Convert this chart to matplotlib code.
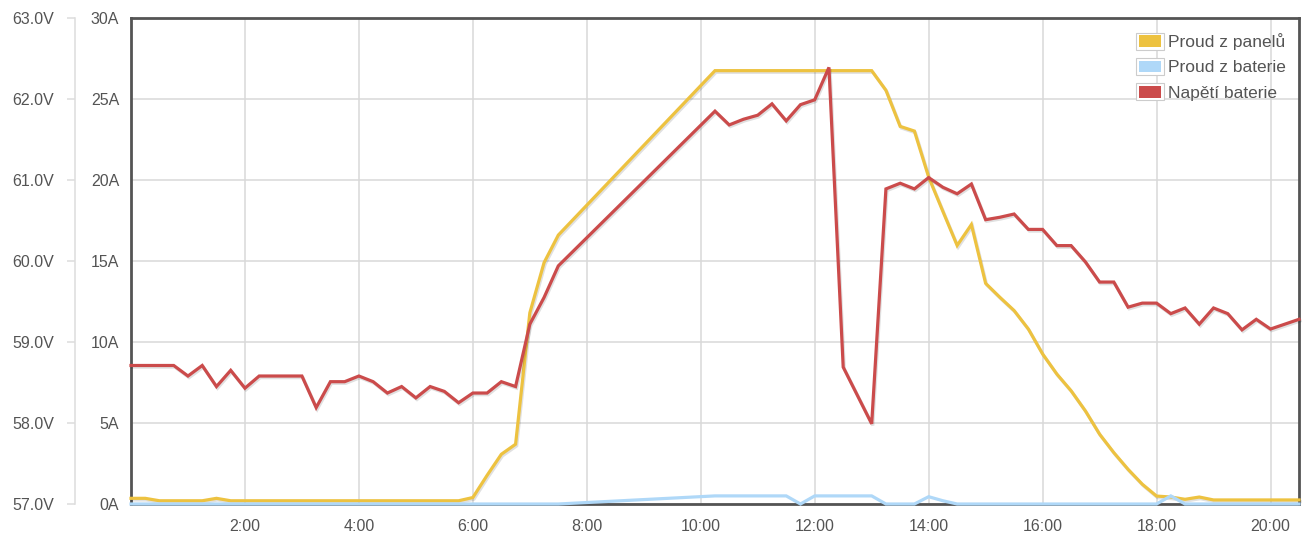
"""Solar charger day log: panel current, battery current and battery voltage."""

import matplotlib

matplotlib.use("Agg")
import matplotlib.pyplot as plt  # noqa: E402
import matplotlib.patheffects as pe  # noqa: E402
from matplotlib.patches import Patch, Rectangle  # noqa: E402

plt.rcParams["font.family"] = ["Liberation Sans", "DejaVu Sans"]

# Samples every 15 min; the logger has a gap between 7:30 and 10:15.
TIMES = [
    "0:00", "0:15", "0:30", "0:45", "1:00", "1:15", "1:30", "1:45",
    "2:00", "2:15", "2:30", "2:45", "3:00", "3:15", "3:30", "3:45",
    "4:00", "4:15", "4:30", "4:45", "5:00", "5:15", "5:30", "5:45",
    "6:00", "6:15", "6:30", "6:45", "7:00", "7:15", "7:30",
    "10:15", "10:30", "10:45", "11:00", "11:15", "11:30", "11:45",
    "12:00", "12:15", "12:30", "12:45", "13:00", "13:15", "13:30", "13:45",
    "14:00", "14:15", "14:30", "14:45", "15:00", "15:15", "15:30", "15:45",
    "16:00", "16:15", "16:30", "16:45", "17:00", "17:15", "17:30", "17:45",
    "18:00", "18:15", "18:30", "18:45", "19:00", "19:15", "19:30", "19:45",
    "20:00", "20:15", "20:30",
]

PANEL_A = [
    0.35, 0.35, 0.2, 0.2, 0.2, 0.2, 0.35, 0.2,
    0.2, 0.2, 0.2, 0.2, 0.2, 0.2, 0.2, 0.2,
    0.2, 0.2, 0.2, 0.2, 0.2, 0.2, 0.2, 0.2,
    0.4, 1.77, 3.07, 3.69, 11.8, 14.9, 16.6,
    26.75, 26.75, 26.75, 26.75, 26.75, 26.75, 26.75,
    26.75, 26.75, 26.75, 26.75, 26.75, 25.54, 23.31, 23.02,
    20.18, 18.06, 15.96, 17.25, 13.62, 12.76, 11.94, 10.8,
    9.26, 8.02, 6.99, 5.75, 4.31, 3.17, 2.14, 1.22,
    0.49, 0.43, 0.29, 0.43, 0.25, 0.25, 0.25, 0.25,
    0.25, 0.25, 0.25,
]

BATTERY_A = [
    0, 0, 0, 0, 0, 0, 0, 0,
    0, 0, 0, 0, 0, 0, 0, 0,
    0, 0, 0, 0, 0, 0, 0, 0,
    0, 0, 0, 0, 0, 0, 0,
    0.5, 0.5, 0.5, 0.5, 0.5, 0.5, 0,
    0.5, 0.5, 0.5, 0.5, 0.5, 0, 0, 0,
    0.45, 0.2, 0, 0, 0, 0, 0, 0,
    0, 0, 0, 0, 0, 0, 0, 0,
    0, 0.5, 0, 0, 0, 0, 0, 0,
    0, 0, 0,
]

BATTERY_V = [
    58.71, 58.71, 58.71, 58.71, 58.58, 58.71, 58.45, 58.65,
    58.43, 58.58, 58.58, 58.58, 58.58, 58.19, 58.51, 58.51,
    58.58, 58.51, 58.37, 58.45, 58.31, 58.45, 58.39, 58.25,
    58.37, 58.37, 58.51, 58.45, 59.22, 59.55, 59.94,
    61.85, 61.68, 61.75, 61.80, 61.94, 61.73, 61.93,
    61.99, 62.39, 58.69, 58.34, 57.99, 60.89, 60.96, 60.89,
    61.03, 60.91, 60.83, 60.95, 60.51, 60.54, 60.58, 60.39,
    60.39, 60.19, 60.19, 59.99, 59.74, 59.74, 59.43, 59.48,
    59.48, 59.35, 59.42, 59.22, 59.42, 59.35, 59.15, 59.28,
    59.16, 59.22, 59.28,
]

SERIES_LABELS = ["Proud z panelů", "Proud z baterie", "Napětí baterie"]
COLORS = ["#edc240", "#afd8f8", "#cb4b4b"]
TEXT_COLOR = "#545454"
GRID_COLOR = "#d9d9d9"

HOUR_TICKS = [2, 4, 6, 8, 10, 12, 14, 16, 18, 20]
AMP_TICKS = [0, 5, 10, 15, 20, 25, 30]
VOLT_TICKS = [57, 58, 59, 60, 61, 62, 63]


def to_hours(label: str) -> float:
    h, m = label.split(":")
    return int(h) + int(m) / 60


class BoxHandler:
    """Flot-style legend swatch: light outlined box with a coloured inset."""

    def legend_artist(self, legend, orig_handle, fontsize, handlebox):
        x0, y0 = -handlebox.xdescent, -handlebox.ydescent
        w, h = handlebox.width, handlebox.height
        tr = handlebox.get_transform()
        outer = Rectangle((x0, y0), w, h, facecolor="white",
                          edgecolor="#cccccc", lw=0.8, transform=tr)
        inner = Rectangle((x0 + 1.8, y0 + 1.8), w - 3.6, h - 3.6,
                          facecolor=orig_handle.get_facecolor(),
                          edgecolor="none", transform=tr)
        handlebox.add_artist(outer)
        handlebox.add_artist(inner)
        return inner


def main() -> None:
    hours = [to_hours(t) for t in TIMES]

    fig = plt.figure(figsize=(13.13, 5.45), dpi=100)
    ax = fig.add_axes([131 / 1313, 41 / 545, 1168 / 1313, 486 / 545])
    ax2 = ax.twinx()

    shadow = [pe.SimpleLineShadow(offset=(0.8, -1.2), alpha=0.12,
                                  shadow_color="black"), pe.Normal()]

    ax.plot(hours, PANEL_A, color=COLORS[0], lw=2.3, zorder=3,
            clip_on=False, path_effects=shadow, solid_joinstyle="miter")
    ax.plot(hours, BATTERY_A, color=COLORS[1], lw=2.3, zorder=3,
            clip_on=False, solid_joinstyle="miter")
    ax2.plot(hours, BATTERY_V, color=COLORS[2], lw=2.3, zorder=3,
             clip_on=False, path_effects=shadow, solid_joinstyle="miter")

    ax.set_xlim(0, 20.5)
    ax.set_ylim(0, 30)
    ax2.set_ylim(57, 63)

    ax.set_xticks(HOUR_TICKS)
    ax.set_xticklabels([f"{h}:00" for h in HOUR_TICKS])
    ax.set_yticks(AMP_TICKS)
    ax.set_yticklabels([f"{a}A" for a in AMP_TICKS])
    ax.tick_params(axis="both", length=0, labelsize=11.5, colors=TEXT_COLOR)
    ax.tick_params(axis="x", pad=11)
    ax.tick_params(axis="y", pad=8.5)
    ax.grid(True, color=GRID_COLOR, lw=1.1)
    ax.set_axisbelow(True)
    for side in ("left", "right", "top", "bottom"):
        ax.spines[side].set_color(TEXT_COLOR)
        ax.spines[side].set_linewidth(2.0)
        ax.spines[side].set_zorder(2.5)

    # Voltage scale sits further out on the left.
    ax2.yaxis.set_ticks_position("left")
    ax2.yaxis.set_label_position("left")
    ax2.spines["left"].set_position(("outward", 40))
    ax2.spines["left"].set_color("#dddddd")
    ax2.spines["left"].set_linewidth(1.1)
    for side in ("right", "top", "bottom"):
        ax2.spines[side].set_visible(False)
    ax2.set_yticks(VOLT_TICKS)
    ax2.set_yticklabels([f"{v:.1f}V" for v in VOLT_TICKS])
    ax2.tick_params(axis="y", direction="out", length=5.5, width=1.1,
                    color="#dddddd", labelcolor=TEXT_COLOR, labelsize=11.5,
                    pad=10)

    handles = [Patch(facecolor=c) for c in COLORS]
    leg = ax2.legend(
        handles, SERIES_LABELS, loc="upper left",
        bbox_to_anchor=((1136 - 131) / 1168, (504 - 33) / 486),
        frameon=False, fontsize=12.5, borderpad=0, borderaxespad=0,
        handlelength=1.6, handleheight=1.1, handletextpad=0.25,
        labelspacing=0.46, handler_map={Patch: BoxHandler()},
    )
    for txt in leg.get_texts():
        txt.set_color(TEXT_COLOR)

    fig.savefig("out.png", dpi=100)
    plt.close(fig)


if __name__ == "__main__":
    main()
